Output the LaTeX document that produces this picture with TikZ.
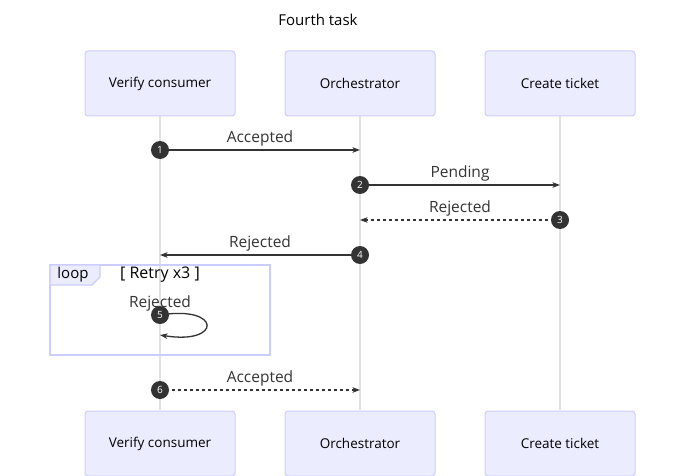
\documentclass[tikz,border=0pt]{standalone}
\usepackage{fontspec}
\setmainfont{Open Sans}
\usetikzlibrary{arrows.meta}
\definecolor{actorfill}{HTML}{ECECFF}
\definecolor{actorline}{HTML}{CCCCFF}
\definecolor{lifeline}{HTML}{E2E2E2}
\definecolor{msgline}{HTML}{333333}
\begin{document}
\begin{tikzpicture}[x=1pt,y=-1pt,
  actor/.style={draw=actorline,fill=actorfill,rounded corners=3pt,line width=1pt,
    minimum width=150pt,minimum height=65pt,font=\fontsize{13.5}{15}\selectfont},
  life/.style={draw=lifeline,line width=1.5pt},
  msg/.style={draw=msgline,line width=1.3pt,-{Stealth[length=7.5pt,width=5.5pt,inset=2pt]}},
  reply/.style={msg,dash pattern=on 3pt off 3pt},
  num/.style={circle,fill=msgline,text=white,inner sep=0pt,minimum size=18pt,
    font=\fontsize{10}{11}\selectfont},
  lbl/.style={text=msgline,font=\fontsize{15.5}{17}\selectfont}]
\useasboundingbox (0,0) rectangle (685,476);
\node[font=\fontsize{15}{17}\selectfont] (title) at (318,20) {Fourth task};
\draw[life] (160,115) -- (160,410);
\draw[life] (360,115) -- (360,410);
\draw[life] (560,115) -- (560,410);
\node[actor] (vcTop) at (160,83.5) {Verify consumer};
\node[actor] (orTop) at (360,83.5) {Orchestrator};
\node[actor] (ctTop) at (560,83.5) {Create ticket};
\node[actor] (vcBot) at (160,443.5) {Verify consumer};
\node[actor] (orBot) at (360,443.5) {Orchestrator};
\node[actor] (ctBot) at (560,443.5) {Create ticket};
\draw[actorline,line width=1.3pt] (50,265) rectangle (270,355);
\draw[actorline,fill=actorfill,line width=1.3pt] (50,265) -- (100,265) -- (100,277) -- (92,285) -- (50,285) -- cycle;
\node[font=\fontsize{15}{17}\selectfont] (loopTag) at (73,275) {loop};
\node[font=\fontsize{16}{18}\selectfont] (loopCond) at (160,275) {[ Retry x3 ]};
\coordinate (e1) at (360,150);
\coordinate (e2) at (560,185);
\coordinate (e3) at (360,220);
\coordinate (e4) at (160,255);
\coordinate (e5) at (160,335);
\coordinate (e6) at (360,390);
\draw[msg] (160,150) -- (e1);
\draw[msg] (360,185) -- (e2);
\draw[reply] (560,220) -- (e3);
\draw[msg] (360,255) -- (e4);
\draw[msg] (160,315) .. controls (222,305) and (222,345) .. (e5);
\draw[reply] (160,390) -- (e6);
\node[lbl] (l1) at (260,138.5) {Accepted};
\node[lbl] (l2) at (460,173.5) {Pending};
\node[lbl] (l3) at (460,208.5) {Rejected};
\node[lbl] (l4) at (260,243.5) {Rejected};
\node[lbl] (l5) at (160,303.5) {Rejected};
\node[lbl] (l6) at (260,378.5) {Accepted};
\node[num] (n1) at (160,150) {1};
\node[num] (n2) at (360,185) {2};
\node[num] (n3) at (560,220) {3};
\node[num] (n4) at (360,255) {4};
\node[num] (n5) at (160,315) {5};
\node[num] (n6) at (160,390) {6};
\end{tikzpicture}
\end{document}
